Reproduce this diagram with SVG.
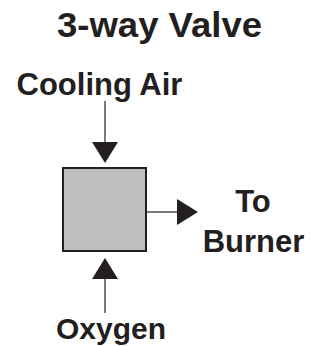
<svg xmlns="http://www.w3.org/2000/svg" width="320" height="346" viewBox="0 0 320 346">
<style>
.t{font-family:"Liberation Sans",Arial,sans-serif;font-weight:bold;fill:#231f20;text-anchor:middle}
.ln{stroke:#231f20;stroke-width:1.2;fill:none}
.ah{fill:#231f20}
</style>
<rect width="320" height="346" fill="#ffffff"/>
<g id="title"><text class="t" x="159.5" y="36.5" font-size="35" textLength="205" lengthAdjust="spacingAndGlyphs">3-way Valve</text></g>
<g id="cooling-air"><text class="t" x="99.5" y="95" font-size="31">Cooling Air</text></g>
<g id="valve"><rect x="63" y="168" width="83" height="83" fill="#bcbec0" stroke="#231f20" stroke-width="2"/></g>
<g id="to-burner"><text class="t" x="253" y="212.3" font-size="31">To</text><text class="t" x="253.5" y="251.7" font-size="31">Burner</text></g>
<g id="oxygen"><text class="t" x="111" y="339.3" font-size="30">Oxygen</text></g>
<g id="connectors">
<line class="ln" x1="105" y1="101" x2="105" y2="143"/>
<polygon class="ah" points="92,142 118,142 105,163"/>
<line class="ln" x1="147" y1="212" x2="178" y2="212"/>
<polygon class="ah" points="177,199 177,225 198,212"/>
<line class="ln" x1="105" y1="278" x2="105" y2="313"/>
<polygon class="ah" points="105,258 92,279 118,279"/>
</g>
</svg>
